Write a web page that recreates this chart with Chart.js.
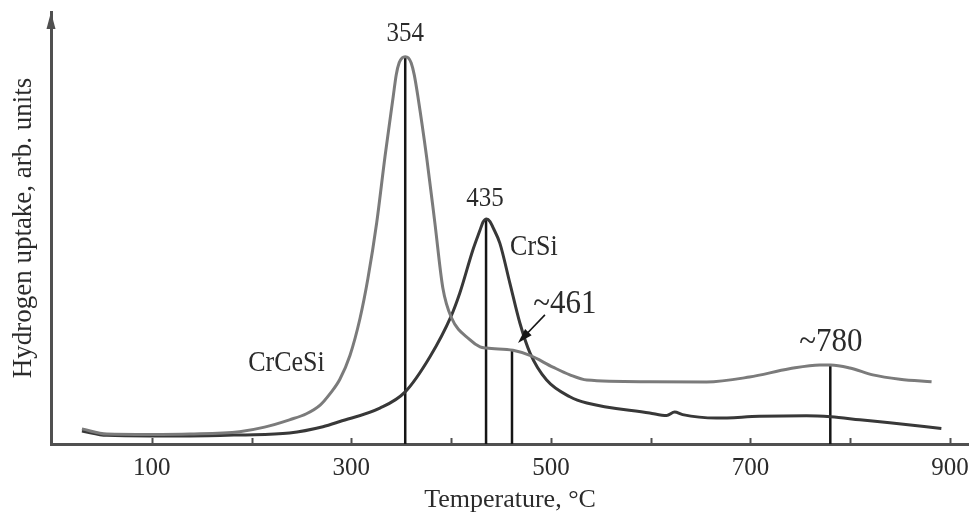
<!DOCTYPE html>
<html>
<head>
<meta charset="utf-8">
<title>Hydrogen uptake</title>
<script src="https://cdn.jsdelivr.net/npm/chart.js@4.4.1/dist/chart.umd.min.js"></script>
<style>
  html, body { margin: 0; padding: 0; background: #fff; }
  #wrap { width: 969px; height: 513px; }
</style>
</head>
<body>
<div id="wrap"><canvas id="tprChart"></canvas></div>
<script>
// H2-TPR profiles, temperature in °C, uptake in arbitrary units
const crCeSiTemp = [30, 55, 98, 138, 188, 213, 238, 255, 268.7, 278.5, 288.5, 298.6, 308.6, 316.6, 325.4, 333.7, 342,
    345, 348, 351, 354, 357, 360, 363, 367, 375.4, 383.7, 391.7, 400, 419, 429, 435.5, 462,
    479, 502, 519, 536, 599, 656, 699, 739, 769.5, 780.5, 799.6, 822.6, 849.7, 881.5];
const crCeSiUptake = [3.5, 2.3, 2.2, 2.3, 2.85, 3.9, 5.6, 7.0, 9.0, 11.6, 15.0, 20.5, 29.0, 38.3, 51.2, 66.5, 80.5,
    85.5, 88.3, 89.4, 89.65, 89.4, 88.2, 85.5, 80.0, 66.5, 51.2, 36.1, 29.4, 24.1, 22.5, 22.2, 21.7,
    20.5, 17.8, 16.0, 14.8, 14.4, 14.35, 15.5, 17.4, 18.3, 18.3, 17.6, 16.0, 15.0, 14.4];

const crSiTemp = [30, 55, 98, 138, 188, 238, 271.5, 288.5, 328.6, 353.7, 378.8, 400, 408.8, 421.8, 428.8, 432, 435.5,
    439, 441.8, 448.8, 458.8, 468.9, 479, 495.7, 519, 536, 599, 616, 624, 632, 666, 709, 756, 780.5, 809.6, 839.5,
    891.3];
const crSiUptake = [3.0, 2.0, 1.85, 1.85, 2.1, 2.55, 4.0, 5.2, 8.3, 12.0, 20.2, 29.6, 35.0, 44.9, 49.4, 51.4, 52.1,
    51.5, 50.2, 46.5, 37.3, 28.0, 21.1, 14.8, 10.95, 9.5, 7.2, 6.6, 7.4, 6.8, 6.0, 6.4, 6.55, 6.3, 5.6, 4.9, 3.6];

const peakTemps = [354, 435, 461, 780];
const peakHeights = [89.65, 52.1, 21.8, 18.3];
const peakLabels = ['354', '435', '~461', '~780'];

const tickTemps = [100, 200, 300, 400, 500, 600, 700, 800, 900];
const tickLabels = ['100', '', '300', '', '500', '', '700', '', '900'];

const serif = "'Liberation Serif', 'Times New Roman', serif";
const inkColor = '#2b2b2b';
const axisColor = '#505050';

function toPoints(xs, ys) {
    return xs.map((x, i) => ({ x: x, y: ys[i] }));
}

const datasets = [
    {
        label: 'CrCeSi',
        data: toPoints(crCeSiTemp, crCeSiUptake),
        borderColor: '#7b7b7b',
        borderWidth: 3,
        cubicInterpolationMode: 'monotone'
    },
    {
        label: 'CrSi',
        data: toPoints(crSiTemp, crSiUptake),
        borderColor: '#383838',
        borderWidth: 3,
        cubicInterpolationMode: 'monotone'
    }
];

// drop lines under the peak maxima
peakTemps.forEach((t, i) => {
    datasets.push({
        label: 'peak ' + peakLabels[i],
        data: [{ x: t, y: 0 }, { x: t, y: peakHeights[i] }],
        borderColor: '#151515',
        borderWidth: 2.5,
        tension: 0
    });
});

// text slightly taller than wide, like the printed figure
function tallText(ctx, text, x, y) {
    ctx.save();
    ctx.translate(x, y);
    ctx.scale(1, 1.12);
    ctx.fillText(text, 0, 0);
    ctx.restore();
}

// text annotations, arrow, inner tick marks and axis arrowhead
const decorPlugin = {
    id: 'decor',
    afterDatasetsDraw(chart) {
        const { ctx, scales: { x, y }, chartArea } = chart;
        const px = (v) => x.getPixelForValue(v);
        const py = (v) => y.getPixelForValue(v);

        ctx.save();

        // tick marks pointing into the plot
        ctx.strokeStyle = axisColor;
        ctx.lineWidth = 2;
        tickTemps.forEach(t => {
            const xx = Math.round(px(t)) + 0.5;
            ctx.beginPath();
            ctx.moveTo(xx, chartArea.bottom);
            ctx.lineTo(xx, chartArea.bottom - 6);
            ctx.stroke();
        });

        // arrowhead on the y axis
        const ax = chartArea.left;
        ctx.fillStyle = axisColor;
        ctx.beginPath();
        ctx.moveTo(ax, chartArea.top);
        ctx.lineTo(ax - 4.5, chartArea.top + 17);
        ctx.lineTo(ax + 4.5, chartArea.top + 17);
        ctx.closePath();
        ctx.fill();

        ctx.fillStyle = inkColor;
        ctx.textAlign = 'center';
        ctx.textBaseline = 'middle';

        ctx.font = '25px ' + serif;
        tallText(ctx, peakLabels[0], px(354), py(95.1));
        tallText(ctx, peakLabels[1], px(434), py(56.9));

        ctx.font = '26px ' + serif;
        tallText(ctx, 'CrSi', px(483), py(45.6));
        tallText(ctx, 'CrCeSi', px(235), py(18.75));

        ctx.font = '31px ' + serif;
        tallText(ctx, peakLabels[2], px(514), py(32.4));
        tallText(ctx, peakLabels[3], px(780.5), py(23.6));

        // arrow pointing at the 461 shoulder
        const x0 = px(494), y0 = py(29.9), x1 = px(467), y1 = py(23.4);
        const ang = Math.atan2(y1 - y0, x1 - x0);
        ctx.strokeStyle = '#151515';
        ctx.lineWidth = 1.6;
        ctx.beginPath();
        ctx.moveTo(x0, y0);
        ctx.lineTo(x1 - 10 * Math.cos(ang), y1 - 10 * Math.sin(ang));
        ctx.stroke();
        ctx.fillStyle = '#151515';
        ctx.beginPath();
        ctx.moveTo(x1, y1);
        ctx.lineTo(x1 - 15 * Math.cos(ang) + 4.5 * Math.sin(ang), y1 - 15 * Math.sin(ang) - 4.5 * Math.cos(ang));
        ctx.lineTo(x1 - 15 * Math.cos(ang) - 4.5 * Math.sin(ang), y1 - 15 * Math.sin(ang) + 4.5 * Math.cos(ang));
        ctx.closePath();
        ctx.fill();

        ctx.restore();
    }
};

new Chart(document.getElementById('tprChart'), {
    type: 'line',
    data: { datasets: datasets },
    plugins: [decorPlugin],
    options: {
        responsive: true,
        maintainAspectRatio: false,
        animation: false,
        layout: { padding: { top: 12, right: 0, bottom: 0, left: 0 } },
        elements: { point: { radius: 0, hoverRadius: 0 } },
        plugins: {
            legend: { display: false },
            tooltip: { enabled: false }
        },
        scales: {
            x: {
                type: 'linear',
                min: -1,
                max: 919,
                afterBuildTicks: (axis) => { axis.ticks = tickTemps.map(v => ({ value: v })); },
                // the 900 label may run off the right edge
                afterFit: (axis) => { axis.paddingRight = 0; axis.paddingLeft = 0; },
                grid: { display: false, drawTicks: false, tickLength: 0 },
                border: { display: true, color: axisColor, width: 3 },
                ticks: {
                    autoSkip: false,
                    maxRotation: 0,
                    padding: 12,
                    color: inkColor,
                    font: { family: serif, size: 25, lineHeight: 1 },
                    callback: (value, index) => tickLabels[index]
                },
                title: {
                    display: true,
                    text: 'Temperature, °C',
                    color: inkColor,
                    font: { family: serif, size: 26, lineHeight: 1 },
                    padding: { top: -6, bottom: 0 }
                }
            },
            y: {
                type: 'linear',
                min: 0,
                max: 100,
                grid: { display: false, drawTicks: false, tickLength: 0 },
                border: { display: true, color: axisColor, width: 3 },
                ticks: { display: false },
                title: {
                    display: true,
                    text: 'Hydrogen uptake, arb. units',
                    color: inkColor,
                    font: { family: serif, size: 27, lineHeight: 1 },
                    padding: { top: 10, bottom: 14 }
                }
            }
        }
    }
});
</script>
</body>
</html>
